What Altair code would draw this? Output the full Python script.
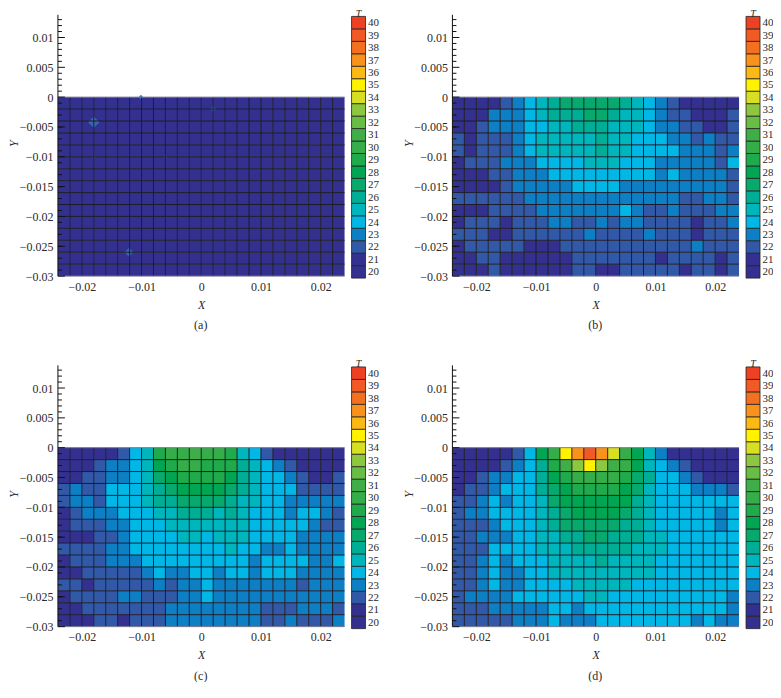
import altair as alt
import pandas as pd

X_EDGES = [-0.024, -0.022, -0.02, -0.018, -0.016, -0.014, -0.012, -0.01, -0.008, -0.006, -0.004, -0.002, 0,
           0.002, 0.004, 0.006, 0.008, 0.01, 0.012, 0.014, 0.016, 0.018, 0.02, 0.022, 0.024]
Y_EDGES = [0, -0.002, -0.004, -0.006, -0.008, -0.01, -0.012, -0.014, -0.016, -0.018, -0.02, -0.022, -0.024,
           -0.026, -0.028, -0.03]
X_TICKS = [-0.02, -0.01, 0, 0.01, 0.02]
Y_TICKS = [0.01, 0.005, 0, -0.005, -0.01, -0.015, -0.02, -0.025, -0.03]
Y_MINOR = [0.013, 0.012, 0.011, 0.009, 0.008, 0.007, 0.006, 0.004, 0.003, 0.002, 0.001,
           -0.001, -0.003, -0.005, -0.007, -0.009, -0.011, -0.013, -0.015, -0.017, -0.019, -0.021, -0.023,
           -0.025, -0.027, -0.029]
Y_AXIS_TOP = 0.0138
LEVELS = list(range(20, 41))
COLORS = ["#34308f", "#34308f", "#3159a8", "#0d80c5", "#00b7e6", "#00b6bd", "#00ae95", "#08a96c", "#00a651",
          "#1fab4c", "#35ae4a", "#3fae49", "#68bd45", "#8dc63f", "#d7df23", "#fff200", "#fdb913", "#f9921d",
          "#f37021", "#f15a24", "#ee4023"]

T_A = [[21] * 24 for _ in range(15)]
SPOT_X = [-0.018, -0.0121, -0.0101, 0.002, -0.018, -0.006]
SPOT_Y = [-0.0042, -0.026, 0, -0.002, -0.01, -0.01]
SPOT_S = [130, 80, 25, 30, 15, 15]

T_B = [
    [21,21,21,21,22,23,24,25,26,27,27,27,27,27,26,25,24,23,22,21,21,21,21,21],
    [21,21,21,23,23,23,24,25,26,26,26,27,27,26,25,25,24,23,22,22,21,21,21,22],
    [21,21,22,23,23,23,24,24,25,25,26,26,26,25,25,25,24,23,23,22,22,21,21,22],
    [22,21,22,22,22,23,24,25,25,25,25,25,26,25,25,24,24,24,23,23,22,23,22,22],
    [22,21,22,22,22,23,24,25,25,25,25,25,26,25,25,24,24,24,24,23,23,23,22,23],
    [21,22,22,22,23,23,23,24,24,24,24,25,25,25,24,24,24,23,23,23,23,23,22,24],
    [21,21,21,22,22,23,23,23,24,24,24,24,24,24,24,24,24,23,24,23,23,23,23,22],
    [21,21,21,21,22,23,23,23,23,23,24,24,24,24,23,23,23,23,23,23,23,23,23,22],
    [22,22,22,22,22,22,23,23,23,23,23,23,23,23,23,23,23,23,23,22,22,23,23,22],
    [21,21,21,22,22,22,22,23,23,23,23,23,23,23,24,23,22,22,23,22,22,22,23,23],
    [21,22,22,22,21,22,22,22,23,23,22,22,23,22,23,23,22,22,22,22,21,22,22,23],
    [22,22,22,21,21,22,22,22,22,22,22,23,22,22,22,22,23,22,22,22,21,22,22,22],
    [21,22,22,22,22,22,21,21,21,22,22,22,22,22,22,22,22,22,22,22,23,22,22,22],
    [21,21,22,22,21,21,21,21,21,21,22,22,22,22,22,22,22,21,22,22,22,22,21,22],
    [21,21,21,22,21,21,21,21,21,21,22,22,21,21,22,22,22,22,22,21,22,22,21,22],
]
T_C = [
    [21,21,21,21,21,22,24,25,29,30,30,31,30,30,29,25,24,22,21,21,21,21,21,21],
    [21,21,21,22,23,23,24,25,28,29,30,30,29,29,29,26,25,24,23,22,21,21,21,21],
    [21,21,22,22,23,23,24,25,27,28,29,29,29,29,28,26,25,24,24,23,22,21,21,22],
    [22,23,22,22,24,24,24,25,26,27,28,28,28,28,27,26,25,24,24,24,22,22,22,22],
    [22,23,23,22,24,24,24,25,26,26,27,27,27,27,26,25,25,24,24,23,23,23,23,23],
    [21,22,23,23,23,24,24,24,25,25,26,26,26,25,26,25,24,24,24,23,24,24,23,22],
    [21,22,22,22,23,23,24,24,24,25,25,25,25,25,25,25,24,24,24,24,24,23,22,22],
    [21,21,21,22,22,23,24,24,24,24,25,25,24,25,25,25,24,24,24,24,23,23,23,23],
    [22,22,22,22,23,23,24,24,24,24,24,24,24,24,25,24,24,23,23,24,23,23,23,23],
    [21,22,22,22,23,23,23,24,24,24,24,24,24,24,24,24,23,24,24,24,24,23,23,24],
    [21,21,22,22,22,22,22,23,24,23,23,24,24,23,24,24,23,24,24,24,23,23,23,23],
    [22,22,21,22,22,22,22,22,23,22,23,23,24,23,23,23,23,23,23,23,22,23,23,23],
    [21,22,22,22,22,23,23,22,22,22,23,23,24,23,23,23,23,23,23,23,23,23,23,23],
    [21,21,22,22,22,22,22,22,22,23,23,23,23,23,23,23,23,22,22,22,23,23,23,22],
    [21,21,21,22,22,21,22,22,22,23,23,23,23,23,23,23,23,22,22,23,22,22,22,23],
]
T_D = [
    [21,21,21,21,21,22,24,28,30,35,37,39,37,34,30,28,25,23,21,21,21,21,21,21],
    [21,21,21,21,22,23,24,26,29,31,33,35,33,31,30,28,25,24,23,22,21,21,21,21],
    [21,21,22,23,23,24,24,26,28,29,30,30,30,30,29,27,26,24,24,23,22,21,21,21],
    [21,22,22,23,24,24,24,26,27,28,29,29,29,29,28,27,25,24,24,24,23,23,23,22],
    [22,22,23,24,23,24,24,25,27,28,28,28,28,28,28,26,25,24,24,24,24,24,24,24],
    [22,23,23,24,24,24,24,25,26,27,28,28,28,28,27,26,25,24,24,24,24,24,23,24],
    [22,22,22,23,24,24,24,25,26,27,27,27,27,27,26,26,25,24,24,24,24,24,23,24],
    [22,22,23,23,23,24,24,25,25,26,26,27,27,26,26,26,25,25,24,24,24,24,24,24],
    [22,22,22,24,24,24,24,25,25,25,26,26,26,26,26,25,25,25,24,24,24,24,24,24],
    [22,22,23,24,23,24,24,24,25,25,25,25,26,25,25,25,25,24,24,24,24,24,24,24],
    [22,22,23,24,23,23,24,24,25,25,25,25,25,25,25,25,25,24,24,24,24,24,24,24],
    [22,22,23,24,23,23,24,24,24,24,25,25,25,25,25,24,24,24,24,24,24,24,24,24],
    [22,23,23,23,23,24,24,24,24,24,24,25,25,24,24,24,24,24,24,24,24,24,24,23],
    [22,22,22,23,23,23,23,23,24,24,23,24,24,24,24,24,24,24,24,24,24,24,24,23],
    [22,22,22,22,22,23,23,23,24,23,23,23,24,24,24,24,24,24,24,24,23,24,23,23],
]

FONT = "Liberation Serif"
INK = "#2a2a2a"
W, H = 287, 268
CB_H = 270
XDOM = [-0.024, 0.024]
YDOM = [-0.03, 0.01487]
CB_DOM = [19.5, 41.14]
color = alt.Color("T:O", scale=alt.Scale(domain=LEVELS, range=COLORS), legend=None)
X_SCALE = alt.Scale(domain=XDOM, nice=False)
Y_SCALE = alt.Scale(domain=YDOM, nice=False)
X_AXIS = alt.Axis(values=X_TICKS, format=".2~f", ticks=False, domain=False, grid=False,
                  labelOverlap=False,
                  labelFont=FONT, labelFontSize=12, labelColor=INK, labelPadding=5,
                  title="X", titleFont=FONT, titleFontSize=12, titleFontStyle="italic",
                  titleFontWeight="normal", titleColor=INK, titlePadding=7)
Y_AXIS = alt.Axis(values=Y_TICKS, format=".3~f", ticks=False, grid=False, domain=False,
                  labelOverlap=False,
                  labelFont=FONT, labelFontSize=12, labelColor=INK, labelPadding=5,
                  minExtent=38, maxExtent=38,
                  title="Y", titleFont=FONT, titleFontSize=12, titleFontStyle="italic",
                  titleFontWeight="normal", titleColor=INK, titleX=-37, titleY=135)


def xq(f):
    return alt.X(f, scale=X_SCALE, axis=X_AXIS)


def yq(f):
    return alt.Y(f, scale=Y_SCALE, axis=Y_AXIS)


def panel(rows, caption, spots=False):
    cells = pd.DataFrame([
        dict(x0=X_EDGES[i], x1=X_EDGES[i + 1], y0=Y_EDGES[j], y1=Y_EDGES[j + 1], T=v)
        for j, row in enumerate(rows) for i, v in enumerate(row)
    ])
    base = alt.Chart(cells).mark_rect(strokeWidth=0).encode(
        x=xq("x0:Q"), x2="x1:Q", y=yq("y0:Q"), y2="y1:Q", color=color)
    layers = [base]
    if spots:
        sp = pd.DataFrame({"x": SPOT_X, "y": SPOT_Y, "s": SPOT_S})
        layers.append(alt.Chart(sp).mark_point(filled=True, shape="diamond", color="#3a6cb0", opacity=0.9).encode(
            x=xq("x:Q"), y=yq("y:Q"), size=alt.Size("s:Q", scale=None, legend=None)))
    vlines = pd.DataFrame({"x": X_EDGES[1:-1], "a": Y_EDGES[0], "b": Y_EDGES[-1]})
    hlines = pd.DataFrame({"y": Y_EDGES[1:-1], "a": XDOM[0], "b": XDOM[1]})
    layers.append(alt.Chart(vlines).mark_rule(color="#1c1c2a", strokeWidth=1).encode(x=xq("x:Q"), y=yq("a:Q"), y2="b:Q"))
    layers.append(alt.Chart(hlines).mark_rule(color="#1c1c2a", strokeWidth=1).encode(y=yq("y:Q"), x=xq("a:Q"), x2="b:Q"))
    edgeh = pd.DataFrame({"y": [Y_EDGES[0], Y_EDGES[-1]], "a": XDOM[0], "b": XDOM[1]})
    layers.append(alt.Chart(edgeh).mark_rule(color="#77798f", strokeWidth=1).encode(y=yq("y:Q"), x=xq("a:Q"), x2="b:Q"))
    spine = pd.DataFrame({"a": [Y_EDGES[-1]], "b": [Y_AXIS_TOP]})
    layers.append(alt.Chart(spine).mark_rule(color="#111", strokeWidth=1).encode(
        x=alt.value(0), y=yq("a:Q"), y2="b:Q"))
    layers.append(alt.Chart(pd.DataFrame({"y": Y_TICKS})).mark_rule(color="#111", strokeWidth=1).encode(
        y=yq("y:Q"), x=alt.value(0), x2=alt.value(7)))
    layers.append(alt.Chart(pd.DataFrame({"y": Y_MINOR})).mark_rule(color="#111", strokeWidth=1).encode(
        y=yq("y:Q"), x=alt.value(0), x2=alt.value(4)))
    layers.append(alt.Chart(pd.DataFrame({"t": [caption]})).mark_text(
        font=FONT, fontSize=12, color=INK).encode(text="t:N", x=alt.value(143), y=alt.value(317)))
    return alt.layer(*layers).properties(width=W, height=H)


def colorbar():
    df = pd.DataFrame({"T": LEVELS, "lo": [v - 0.5 for v in LEVELS], "hi": [v + 0.5 for v in LEVELS]})
    scale = alt.Scale(domain=CB_DOM, nice=False)
    axis = alt.Axis(orient="right", values=LEVELS, format="d", ticks=False, domain=False, grid=False,
                    title=None, labelOverlap=False,
                    labelFont=FONT, labelFontSize=11, labelColor=INK, labelPadding=2)
    bars = alt.Chart(df).mark_rect(stroke="#222", strokeWidth=0.8).encode(
        y=alt.Y("lo:Q", scale=scale, axis=axis),
        y2="hi:Q",
        color=color,
    )
    label = alt.Chart(pd.DataFrame({"y": [40.46], "t": ["T"]})).mark_text(
        font=FONT, fontSize=10, fontStyle="italic", color=INK, baseline="alphabetic"
    ).encode(y=alt.Y("y:Q", scale=scale, axis=axis), x=alt.value(7), text="t:N")
    return alt.layer(bars, label).properties(width=14, height=CB_H)


def group(rows, caption, spots=False):
    return alt.hconcat(panel(rows, caption, spots), colorbar(), spacing=5)


top = alt.hconcat(group(T_A, "(a)", True), group(T_B, "(b)"), spacing=24)
bottom = alt.hconcat(group(T_C, "(c)"), group(T_D, "(d)"), spacing=24)
chart = alt.vconcat(top, bottom, spacing=28).properties(padding=0).configure_view(stroke=None)

chart.save("out.html", embed_options={"renderer": "svg", "actions": False})
